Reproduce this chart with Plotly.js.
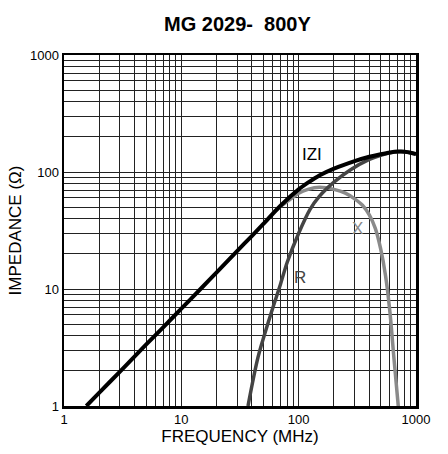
<!DOCTYPE html>
<html>
<head>
<meta charset="utf-8">
<script src="https://cdn.plot.ly/plotly-3.0.1.min.js"></script>
<style>html,body{margin:0;padding:0;background:#fff;}#chart{width:448px;height:454px;}</style>
</head>
<body>
<div id="chart"></div>
<script>
// |Z| impedance
const zFreq = [1.55, 2, 3, 5, 7, 10, 15, 20, 30, 40, 50, 70, 100, 120, 150, 200, 300, 400, 500, 600, 700, 800, 900, 1000];
const zVal  = [1, 1.3, 1.97, 3.34, 4.7, 6.8, 10.3, 13.9, 21.2, 28.5, 36, 51.5, 71, 81, 93.5, 107, 124, 135, 142, 147, 149.5, 149, 146, 142];
// R resistance
const rFreq = [37, 45, 57, 70, 80, 100, 125, 150, 200, 275, 400, 500, 600, 700, 800, 900, 1000];
const rVal  = [1, 2.6, 5.8, 11, 17, 30, 48, 62, 82, 104, 128, 139, 146, 149, 149, 146, 142];
// X reactance
const xFreq = [60, 80, 100, 120, 150, 200, 250, 300, 350, 400, 450, 500, 550, 600, 650, 700, 720];
const xVal  = [45, 56, 66, 71, 74, 71, 66, 59, 52, 43, 33, 22, 13, 6.3, 2.5, 1.1, 0.8];

const gridVals = [];
for (const d of [1, 10, 100]) for (let k = 1; k <= 9; k++) gridVals.push(k * d);
gridVals.push(1000);
const decadeLabels = ['1', '10', '100', '1000'];
const tickText = gridVals.map(v => decadeLabels.includes(String(v)) ? String(v) : '');

const FONT = 'Liberation Sans Narrow, Liberation Sans, Arial, sans-serif';

const traces = [
  {x: xFreq, y: xVal, mode: 'lines', line: {color: '#8a8a8a', width: 3.5, shape: 'spline', smoothing: 0.8}, hoverinfo: 'skip'},
  {x: rFreq, y: rVal, mode: 'lines', line: {color: '#444444', width: 3.5, shape: 'spline', smoothing: 0.8}, hoverinfo: 'skip'},
  {x: zFreq, y: zVal, mode: 'lines', line: {color: '#000000', width: 4, shape: 'spline', smoothing: 0.8}, hoverinfo: 'skip'}
];

const axisCommon = {
  type: 'log',
  tickvals: gridVals,
  ticktext: tickText,
  ticks: '',
  showgrid: true,
  gridcolor: '#222',
  gridwidth: 1,
  showline: true,
  linecolor: '#000',
  linewidth: 2.5,
  mirror: true,
  zeroline: false,
  tickfont: {family: FONT, size: 13, color: '#000'},
  fixedrange: true
};

const layout = {
  width: 448, height: 454,
  margin: {l: 64, r: 32, t: 55, b: 48},
  paper_bgcolor: '#fff', plot_bgcolor: '#fff',
  showlegend: false,
  title: {text: '<b>MG 2029-\u00a0 800Y</b>', x: 0.53, xanchor: 'center', y: 0.947, yanchor: 'middle',
          font: {family: 'Liberation Sans, Arial, sans-serif', size: 20, color: '#000'}},
  xaxis: Object.assign({}, axisCommon, {
    range: [0, 3],
    title: {text: 'FREQUENCY (MHz)', font: {family: FONT, size: 17, color: '#000'}, standoff: 4}
  }),
  yaxis: Object.assign({}, axisCommon, {
    range: [0, 3],
    title: {text: 'IMPEDANCE (Ω)', font: {family: FONT, size: 17, color: '#000'}, standoff: 4}
  }),
  annotations: [
    {x: Math.log10(130), y: Math.log10(140), xref: 'x', yref: 'y', text: 'IZI', showarrow: false,
     font: {family: FONT, size: 17, color: '#000'}},
    {x: Math.log10(320), y: Math.log10(33), xref: 'x', yref: 'y', text: 'X', showarrow: false,
     font: {family: FONT, size: 17, color: '#8a8a8a'}},
    {x: Math.log10(103), y: Math.log10(12.6), xref: 'x', yref: 'y', text: 'R', showarrow: false,
     font: {family: FONT, size: 17, color: '#444'}}
  ]
};

Plotly.newPlot('chart', traces, layout, {displayModeBar: false, staticPlot: true});
</script>
</body>
</html>
